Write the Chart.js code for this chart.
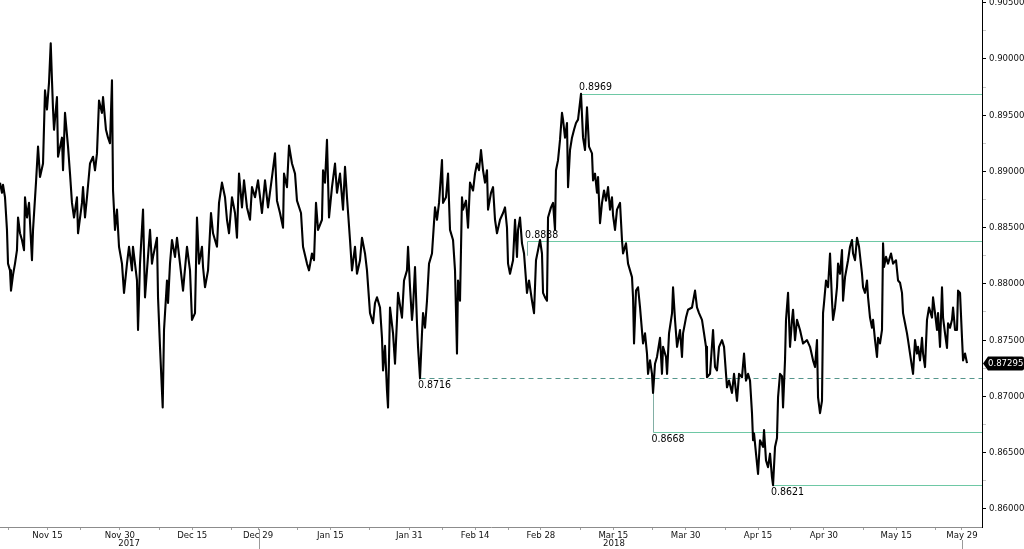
<!doctype html>
<html lang="en">
<head>
<meta charset="utf-8">
<title>EUR/GBP</title>
<script src="https://cdn.jsdelivr.net/npm/chart.js@4.4.1/dist/chart.umd.min.js"></script>
<style>
  html, body { margin: 0; padding: 0; background: #fff; }
</style>
</head>
<body>
<canvas id="chart" width="1024" height="549"></canvas>
<script>
// x = trading day counted from Nov 15 2017 (fractions = intraday), y = price
var days = [
  -7.22,-6.92,-6.76,-6.46,-6.16,-6.00,-5.70,-5.55,-5.24,-4.94,
  -4.64,-4.48,-4.18,-3.88,-3.57,-3.42,-3.12,-2.81,-2.36,-2.20,
  -1.75,-1.44,-1.14,-0.68,-0.38,-0.08,0.23,0.49,0.68,0.84,
  0.99,1.44,1.60,2.20,2.36,2.66,3.12,3.42,3.72,4.03,
  4.48,4.64,5.24,5.40,5.70,6.00,6.46,6.92,7.22,7.52,
  7.83,8.28,8.44,8.89,9.20,9.50,9.80,9.96,10.26,10.56,
  10.87,11.32,11.63,12.08,12.39,12.84,12.99,13.60,13.76,14.06,
  14.52,14.82,15.12,15.58,15.88,16.04,16.64,16.80,17.10,17.51,
  17.71,18.16,18.32,18.62,18.92,19.38,19.68,20.14,20.60,21.20,
  21.66,21.96,22.42,22.72,23.03,23.48,23.64,23.94,24.40,24.85,
  25.16,25.76,26.07,26.52,26.98,27.28,27.59,28.04,28.50,28.80,
  29.11,29.56,29.87,30.32,30.78,31.08,31.54,32.00,32.60,33.06,
  33.52,34.12,34.58,34.88,35.34,35.80,35.95,36.40,36.71,37.16,
  37.62,37.92,38.53,38.84,39.44,39.75,40.20,40.51,40.81,41.12,
  41.72,41.88,42.18,42.48,42.79,43.24,43.70,44.00,44.46,44.92,
  45.22,45.52,45.98,46.28,46.74,47.04,47.50,47.80,48.26,48.56,
  49.02,49.48,49.78,50.08,50.54,50.84,51.00,51.30,51.60,51.76,
  52.06,52.52,52.82,53.12,53.28,53.88,54.19,54.64,54.80,55.10,
  55.40,55.56,55.86,56.16,56.32,56.62,56.92,57.08,57.38,57.68,
  57.99,58.44,58.90,59.20,59.51,59.96,60.12,60.57,60.88,61.18,
  61.64,61.94,62.24,62.40,62.70,63.00,63.16,63.61,63.92,64.22,
  64.68,64.98,65.28,65.59,65.89,66.20,66.50,66.80,66.96,67.41,
  67.72,68.02,68.32,68.78,69.24,69.54,69.84,70.00,70.30,70.76,
  71.06,71.36,71.52,71.82,72.12,72.43,72.88,73.19,73.64,73.95,
  74.25,74.56,74.86,75.16,75.32,75.62,75.92,76.08,76.53,76.84,
  77.14,77.29,77.60,77.90,78.20,78.36,78.66,78.96,79.12,79.42,
  79.72,80.03,80.33,80.64,81.09,81.40,81.70,82.00,82.31,82.76,
  82.92,83.22,83.52,83.68,83.98,84.28,84.59,84.89,85.20,85.50,
  85.80,85.96,86.26,86.56,87.02,87.32,87.48,87.93,88.24,88.54,
  88.84,89.00,89.15,89.45,89.76,90.06,90.52,90.82,91.12,91.28,
  91.58,91.88,92.04,92.34,92.64,93.10,93.40,93.56,94.01,94.17,
  94.47,94.93,95.08,95.38,95.69,96.14,96.44,96.60,97.05,97.36,
  97.96,98.42,98.72,99.03,99.48,99.79,100.09,100.24,100.70,101.16,
  101.46,101.76,102.07,102.52,102.83,103.28,103.59,104.04,104.35,104.80,
  105.11,105.56,105.87,106.17,106.48,106.78,107.08,107.24,107.39,107.69,
  108.00,108.30,108.76,108.91,109.21,109.52,109.82,110.12,110.28,110.58,
  110.88,111.04,111.34,111.64,111.80,112.10,112.25,112.56,112.86,113.16,
  113.32,113.62,113.92,114.38,114.84,115.44,115.90,116.36,116.66,116.96,
  117.12,117.42,117.72,117.88,118.03,118.33,118.64,118.94,119.24,119.40,
  119.70,120.00,120.16,120.46,120.76,120.92,121.22,121.68,121.98,122.28,
  122.44,122.74,123.04,123.35,123.80,123.96,124.26,124.56,124.72,125.02,
  125.32,125.48,125.78,126.08,126.24,126.54,126.84,127.00,127.15,127.45,
  127.76,128.21,128.52,128.97,129.28,129.58,129.88,130.04,130.34,130.64,
  130.80,131.10,131.40,131.56,131.86,132.16,132.32,132.62,132.92,133.08,
  133.38,133.68,133.99,134.44,134.60,134.90,135.20,135.36,135.66,135.96,
  136.12,136.42,136.72,136.88,137.18,137.48,137.64,137.94,138.24,138.40,
  138.70,139.00,139.16,139.46,139.76
];
var prices = [
  0.8890,0.8881,0.8888,0.8877,0.8848,0.8818,0.8812,0.8794,0.8808,0.8818,
  0.8830,0.8859,0.8845,0.8839,0.8830,0.8877,0.8859,0.8872,0.8821,0.8848,
  0.8890,0.8922,0.8895,0.8907,0.8972,0.8955,0.8979,0.9014,0.8981,0.8955,
  0.8937,0.8966,0.8913,0.8930,0.8901,0.8952,0.8922,0.8898,0.8872,0.8859,
  0.8877,0.8845,0.8872,0.8886,0.8859,0.8877,0.8907,0.8913,0.8901,0.8916,
  0.8963,0.8952,0.8966,0.8937,0.8930,0.8925,0.8981,0.8883,0.8848,0.8866,
  0.8833,0.8818,0.8792,0.8818,0.8833,0.8812,0.8833,0.8803,0.8759,0.8818,
  0.8866,0.8788,0.8812,0.8848,0.8818,0.8824,0.8841,0.8788,0.8744,0.8690,
  0.8759,0.8803,0.8783,0.8818,0.8839,0.8824,0.8841,0.8818,0.8794,0.8833,
  0.8812,0.8768,0.8774,0.8859,0.8818,0.8833,0.8815,0.8797,0.8812,0.8863,
  0.8845,0.8833,0.8872,0.8890,0.8877,0.8857,0.8845,0.8877,0.8863,0.8841,
  0.8898,0.8868,0.8892,0.8868,0.8857,0.8886,0.8877,0.8892,0.8863,0.8892,
  0.8868,0.8895,0.8916,0.8874,0.8863,0.8850,0.8898,0.8886,0.8923,0.8907,
  0.8898,0.8874,0.8863,0.8833,0.8818,0.8812,0.8827,0.8821,0.8872,0.8848,
  0.8857,0.8901,0.8890,0.8928,0.8859,0.8886,0.8907,0.8881,0.8898,0.8866,
  0.8904,0.8877,0.8839,0.8812,0.8833,0.8809,0.8821,0.8841,0.8827,0.8812,
  0.8774,0.8765,0.8783,0.8788,0.8779,0.8752,0.8723,0.8745,0.8705,0.8690,
  0.8779,0.8756,0.8729,0.8768,0.8792,0.8770,0.8803,0.8812,0.8833,0.8797,
  0.8768,0.8779,0.8815,0.8765,0.8744,0.8716,0.8756,0.8774,0.8761,0.8785,
  0.8818,0.8827,0.8868,0.8857,0.8872,0.8910,0.8872,0.8877,0.8898,0.8848,
  0.8839,0.8812,0.8738,0.8803,0.8785,0.8877,0.8866,0.8874,0.8850,0.8890,
  0.8883,0.8898,0.8907,0.8901,0.8919,0.8901,0.8890,0.8901,0.8866,0.8881,
  0.8886,0.8857,0.8845,0.8857,0.8863,0.8868,0.8850,0.8818,0.8809,0.8821,
  0.8857,0.8824,0.8848,0.8859,0.8836,0.8827,0.8792,0.8803,0.8785,0.8774,
  0.8821,0.8830,0.8839,0.8827,0.8792,0.8788,0.8785,0.8859,0.8868,0.8872,
  0.8848,0.8901,0.8910,0.8928,0.8952,0.8946,0.8930,0.8943,0.8886,0.8919,
  0.8930,0.8937,0.8943,0.8946,0.8969,0.8930,0.8919,0.8957,0.8922,0.8916,
  0.8892,0.8898,0.8881,0.8895,0.8854,0.8872,0.8883,0.8874,0.8886,0.8866,
  0.8877,0.8861,0.8848,0.8866,0.8872,0.8839,0.8827,0.8836,0.8818,0.8812,
  0.8806,0.8788,0.8747,0.8794,0.8797,0.8779,0.8747,0.8756,0.8738,0.8720,
  0.8732,0.8720,0.8703,0.8729,0.8735,0.8752,0.8720,0.8744,0.8735,0.8720,
  0.8756,0.8774,0.8797,0.8768,0.8744,0.8759,0.8735,0.8756,0.8770,0.8777,
  0.8779,0.8794,0.8779,0.8774,0.8768,0.8756,0.8744,0.8717,0.8720,0.8759,
  0.8726,0.8723,0.8744,0.8750,0.8744,0.8708,0.8714,0.8703,0.8720,0.8696,
  0.8720,0.8717,0.8738,0.8714,0.8720,0.8714,0.8685,0.8661,0.8667,0.8649,
  0.8631,0.8661,0.8655,0.8670,0.8643,0.8637,0.8649,0.8628,0.8621,0.8655,
  0.8663,0.8699,0.8720,0.8718,0.8690,0.8732,0.8768,0.8792,0.8744,0.8768,
  0.8777,0.8750,0.8768,0.8759,0.8747,0.8750,0.8744,0.8732,0.8726,0.8750,
  0.8699,0.8685,0.8696,0.8774,0.8783,0.8803,0.8797,0.8827,0.8785,0.8768,
  0.8779,0.8797,0.8818,0.8809,0.8830,0.8785,0.8806,0.8821,0.8833,0.8839,
  0.8827,0.8821,0.8841,0.8833,0.8809,0.8797,0.8792,0.8803,0.8788,0.8770,
  0.8761,0.8768,0.8750,0.8735,0.8752,0.8747,0.8759,0.8836,0.8815,0.8824,
  0.8818,0.8827,0.8818,0.8821,0.8803,0.8801,0.8792,0.8774,0.8765,0.8756,
  0.8750,0.8738,0.8726,0.8720,0.8750,0.8738,0.8744,0.8732,0.8752,0.8738,
  0.8726,0.8768,0.8779,0.8770,0.8788,0.8774,0.8759,0.8774,0.8744,0.8797,
  0.8770,0.8756,0.8743,0.8765,0.8761,0.8768,0.8779,0.8759,0.8759,0.8794,
  0.8792,0.8752,0.8732,0.8738,0.87295
];

// date axis (trading-day index of each label)
var monthLabels = ['Nov 15','Nov 30','Dec 15','Dec 29','Jan 15','Jan 31','Feb 14','Feb 28','Mar 15','Mar 30','Apr 15','Apr 30','May 15','May 29'];
var monthIdx = [0, 11, 22, 32, 43, 55, 65, 75, 86, 97, 108, 118, 129, 139];
var minorIdx = [-6, 5, 17, 28, 38, 49, 60, 70, 81, 92, 103, 113, 124, 135];
var yearLabels = ['2017', '2018'];
var yearIdx = [12.4, 86.1];
var yearBreak = 32.1;

// price axis
var yMajor = [0.860, 0.865, 0.870, 0.875, 0.880, 0.885, 0.890, 0.895, 0.900, 0.905];
var yMinor = [0.8625, 0.8675, 0.8725, 0.8775, 0.8825, 0.8875, 0.8925, 0.8975, 0.9025];

// marked levels: value, day where the line starts, price the connector reaches
var levelValues = [0.8969, 0.8838, 0.8716, 0.8668, 0.8621];
var levelFrom = [81.09, 72.9, 56.62, 92.1, 110.28];
var levelAnchor = [0.8969, 0.8825, 0.8716, 0.8703, 0.8621];
var levelDashed = [false, false, true, false, false];
var levelBelow = [false, false, true, true, true];

var FONT = '"DejaVu Sans Condensed", "DejaVu Sans", sans-serif';

var points = days.map(function (d, i) { return { x: d, y: prices[i] }; });
var xTicks = monthIdx.concat(minorIdx).sort(function (a, b) { return a - b; });
var yTicks = yMajor.concat(yMinor).sort(function (a, b) { return a - b; });

function isMajorY(v) {
  return yMajor.some(function (m) { return Math.abs(m - v) < 1e-7; });
}

// horizontal levels, connectors and their labels
var levelsPlugin = {
  id: 'levels',
  beforeDatasetsDraw: function (chart) {
    var ctx = chart.ctx, a = chart.chartArea, x = chart.scales.x, y = chart.scales.y;
    ctx.save();
    ctx.lineWidth = 1;
    levelValues.forEach(function (v, i) {
      var py = Math.round(y.getPixelForValue(v)) + 0.5;
      var px = Math.round(x.getPixelForValue(levelFrom[i])) + 0.5;
      var pa = y.getPixelForValue(levelAnchor[i]);
      ctx.setLineDash([]);
      if (Math.abs(pa - py) > 1) {
        ctx.strokeStyle = 'rgb(130,175,165)';
        ctx.beginPath(); ctx.moveTo(px, pa); ctx.lineTo(px, py); ctx.stroke();
      }
      ctx.strokeStyle = levelDashed[i] ? 'rgb(85,150,140)' : 'rgb(110,200,165)';
      ctx.setLineDash(levelDashed[i] ? [5, 4] : []);
      ctx.beginPath(); ctx.moveTo(px, py); ctx.lineTo(a.right, py); ctx.stroke();
    });
    ctx.restore();
  },
  afterDatasetsDraw: function (chart) {
    var ctx = chart.ctx, x = chart.scales.x, y = chart.scales.y;
    ctx.save();
    ctx.font = '10.5px ' + FONT;
    ctx.fillStyle = '#000';
    ctx.textAlign = 'left';
    levelValues.forEach(function (v, i) {
      var py = y.getPixelForValue(v);
      var px = x.getPixelForValue(levelFrom[i]) - 2;
      if (levelBelow[i]) {
        ctx.textBaseline = 'top';
        ctx.fillText(v.toFixed(4), px, py + 2);
      } else {
        ctx.textBaseline = 'bottom';
        ctx.fillText(v.toFixed(4), px, py - 1);
      }
    });
    ctx.restore();
  }
};

// year labels, year break mark and last price tag
var extrasPlugin = {
  id: 'extras',
  afterDraw: function (chart) {
    var ctx = chart.ctx, a = chart.chartArea, x = chart.scales.x, y = chart.scales.y;
    ctx.save();
    ctx.font = '9.5px ' + FONT;
    ctx.fillStyle = '#111';
    ctx.textAlign = 'center';
    ctx.textBaseline = 'middle';
    yearLabels.forEach(function (t, i) {
      ctx.fillText(t, x.getPixelForValue(yearIdx[i]), a.bottom + 16.5);
    });

    ctx.strokeStyle = '#9a9a9a';
    ctx.lineWidth = 1;
    var bx = Math.round(x.getPixelForValue(yearBreak)) + 0.5;
    ctx.beginPath(); ctx.moveTo(bx, a.bottom + 2); ctx.lineTo(bx, chart.height); ctx.stroke();
    var lx = Math.round(x.getPixelForValue(days[days.length - 1] - 0.76)) + 0.5;
    ctx.beginPath(); ctx.moveTo(lx, a.bottom + 13); ctx.lineTo(lx, chart.height); ctx.stroke();

    var last = prices[prices.length - 1];
    var py = Math.round(y.getPixelForValue(last)) + 0.5;
    var x0 = a.right + 1, h = 7;
    ctx.fillStyle = '#000';
    ctx.beginPath();
    ctx.moveTo(x0, py);
    ctx.lineTo(x0 + 5, py - h);
    ctx.lineTo(chart.width - 2, py - h);
    ctx.quadraticCurveTo(chart.width, py - h, chart.width, py - h + 2);
    ctx.lineTo(chart.width, py + h - 2);
    ctx.quadraticCurveTo(chart.width, py + h, chart.width - 2, py + h);
    ctx.lineTo(x0 + 5, py + h);
    ctx.closePath();
    ctx.fill();
    ctx.fillStyle = '#fff';
    ctx.textAlign = 'left';
    ctx.fillText(last.toFixed(5), x0 + 5, py);
    ctx.restore();
  }
};

new Chart(document.getElementById('chart').getContext('2d'), {
  type: 'line',
  data: {
    datasets: [{
      data: points,
      borderColor: '#000',
      borderWidth: 2.1,
      borderJoinStyle: 'round',
      pointRadius: 0,
      tension: 0
    }]
  },
  options: {
    responsive: false,
    animation: false,
    layout: { padding: 0 },
    plugins: { legend: { display: false }, tooltip: { enabled: false } },
    scales: {
      x: {
        type: 'linear',
        min: -7.22,
        max: 142.04,
        afterBuildTicks: function (s) { s.ticks = xTicks.map(function (v) { return { value: v }; }); },
        afterFit: function (s) { s.height = 22; s.paddingLeft = 0; s.paddingRight = 0; },
        grid: { drawOnChartArea: false, drawTicks: true, tickLength: 3, color: '#a0a0a0' },
        border: { color: '#8c8c8c', width: 1 },
        ticks: {
          autoSkip: false, maxRotation: 0, minRotation: 0, padding: 0,
          color: '#111', font: { family: FONT, size: 9.5 },
          callback: function (v) {
            var k = monthIdx.indexOf(v);
            return k >= 0 ? monthLabels[k] : '';
          }
        }
      },
      y: {
        type: 'linear',
        position: 'right',
        min: 0.85838,
        max: 0.90524,
        afterBuildTicks: function (s) { s.ticks = yTicks.map(function (v) { return { value: v }; }); },
        afterFit: function (s) { s.width = 42; s.paddingTop = 0; s.paddingBottom = 0; },
        grid: {
          drawOnChartArea: false, drawTicks: true, tickLength: 4,
          tickColor: function (c) { return c.tick && isMajorY(c.tick.value) ? '#000' : '#c8c8c8'; }
        },
        border: { color: '#000', width: 1 },
        ticks: {
          autoSkip: false, padding: 3, color: '#111', font: { family: FONT, size: 9.5 },
          callback: function (v) { return isMajorY(v) ? v.toFixed(5) : ''; }
        }
      }
    }
  },
  plugins: [levelsPlugin, extrasPlugin]
});
</script>
</body>
</html>
